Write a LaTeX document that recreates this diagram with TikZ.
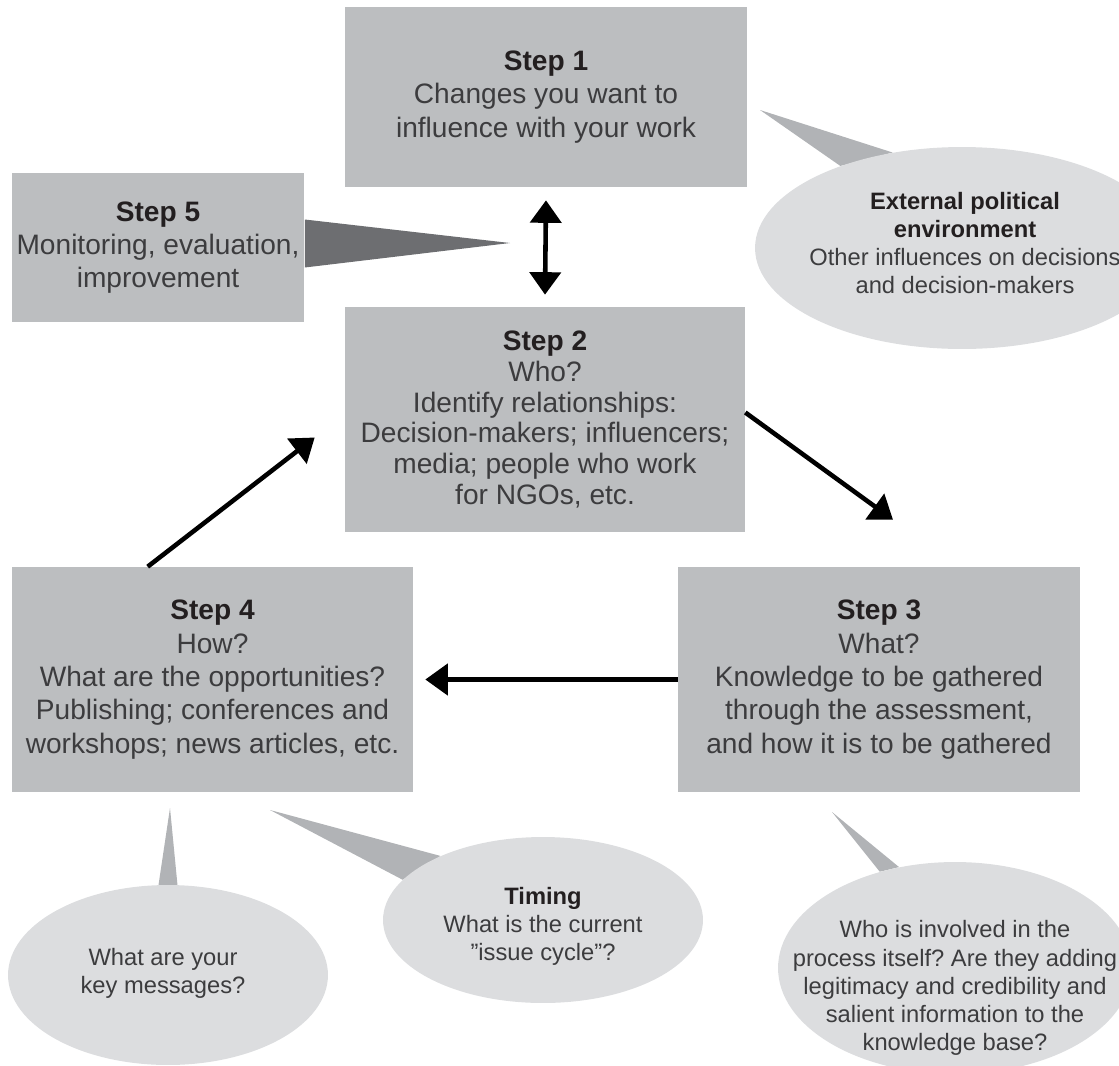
\documentclass[tikz,border=0pt]{standalone}
\usepackage{fontspec}
\setmainfont{Liberation Sans}
\usepackage{xcolor}
\usetikzlibrary{arrows.meta,calc,positioning,shapes.geometric,backgrounds}
\definecolor{boxgray}{HTML}{BCBEC0}
\definecolor{bubgray}{HTML}{DCDDDF}
\definecolor{wedgegray}{HTML}{B1B3B6}
\definecolor{darkwedge}{HTML}{6D6E71}
\definecolor{txtgray}{HTML}{3C3C3E}
\definecolor{hdgray}{HTML}{231F20}
\newcommand{\stephd}[1]{\textcolor{hdgray}{\bfseries #1}}
\frenchspacing

\begin{document}
\begin{tikzpicture}[x=0.02cm,y=-0.02cm,
  stepbox/.style={rectangle,fill=boxgray,text=txtgray,align=center,inner sep=0pt,
    font=\fontsize{16}{19}\selectfont},
  bubble/.style={ellipse,fill=bubgray,inner sep=0pt},
  bubtext/.style={text=txtgray,align=center,font=\fontsize{13.5}{16}\selectfont},
  flow/.style={line width=2.6pt,-{Triangle[length=0.45cm,width=0.62cm]}},
  dflow/.style={line width=2.6pt,{Triangle[length=0.45cm,width=0.62cm]}-{Triangle[length=0.45cm,width=0.62cm]}},
  wedge/.style={fill=wedgegray}]
\path[use as bounding box,clip] (0,0) rectangle (1119,1065);

\node[bubble,minimum width=8.28cm,minimum height=4.04cm] (ext) at (962,248) {};
\node[bubble,minimum width=6.4cm,minimum height=3.6cm] (key) at (168,975) {};
\node[bubble,minimum width=6.4cm,minimum height=3.32cm] (tim) at (543,920) {};
\node[bubble,minimum width=7.08cm,minimum height=4.24cm] (know) at (955,968) {};

\node[bubtext] (exttxt) at ($(ext)+(3,-5)$) {\stephd{External political}\\\stephd{environment}\\Other influences on decisions\\and decision-makers};
\node[bubtext] (keytxt) at ($(key)+(-5,-2)$) {What are your\\key messages?};
\node[bubtext] (timtxt) at ($(tim)+(0,6)$) {\stephd{Timing}\\What is the current\\\symbol{34}issue cycle\symbol{34}?};
\node[bubtext] (knowtxt) at ($(know)+(0,20)$) {Who is involved in the\\process itself? Are they adding\\legitimacy and credibility and\\salient information to the\\knowledge base?};

\node[stepbox,minimum width=8.04cm,minimum height=3.6cm] (s1) at (546,97) {\stephd{Step 1}\\Changes you want to\\influence with your work};
\node[stepbox,minimum width=5.86cm,minimum height=2.98cm] (s5) at (158,247.5) {\stephd{Step 5}\\Monitoring, evaluation,\\improvement};
\node[stepbox,minimum width=8cm,minimum height=4.5cm,font=\fontsize{16}{17.5}\selectfont] (s2) at (545,419.5) {\stephd{Step 2}\\Who?\\Identify relationships:\\Decision-makers; influencers;\\media; people who work\\for NGOs, etc.};
\node[stepbox,minimum width=8.02cm,minimum height=4.5cm] (s4) at (212.5,679.5) {\stephd{Step 4}\\How?\\What are the opportunities?\\Publishing; conferences and\\workshops; news articles, etc.};
\node[stepbox,minimum width=8.04cm,minimum height=4.5cm] (s3) at (879,679.5) {\stephd{Step 3}\\What?\\Knowledge to be gathered\\through the assessment,\\and how it is to be gathered};

\coordinate (t5) at (510,243);
\coordinate (t1) at (760,110);
\coordinate (t4a) at (170,808);
\coordinate (t4b) at (270,810);
\coordinate (t3) at (832,812);

\begin{scope}[on background layer]
\fill[darkwedge] ($(s5.east)+(0,-28)$) -- (t5) -- ($(s5.east)+(0,20)$) -- cycle;
\fill[wedge] (t1) -- (ext.126) -- (ext.146) -- cycle;
\fill[wedge] (t4a) -- (key.84) -- (key.96) -- cycle;
\fill[wedge] (t4b) -- (tim.148) -- (tim.164) -- cycle;
\fill[wedge] (t3) -- (know.119) -- (know.128) -- cycle;
\end{scope}

\draw[dflow] ($(s1.south)+(0,13)$) -- ($(s2.north)+(0,-12)$);
\draw[flow] ($(s2.east)+(0,-7)$) -- ($(s3.north)+(14,-47)$);
\draw[flow] (s3.west) -- ($(s4.east)+(12,0)$);
\draw[flow] ($(s4.north west)+(136,0)$) -- ($(s2.west)+(-30,18)$);
\end{tikzpicture}
\end{document}
